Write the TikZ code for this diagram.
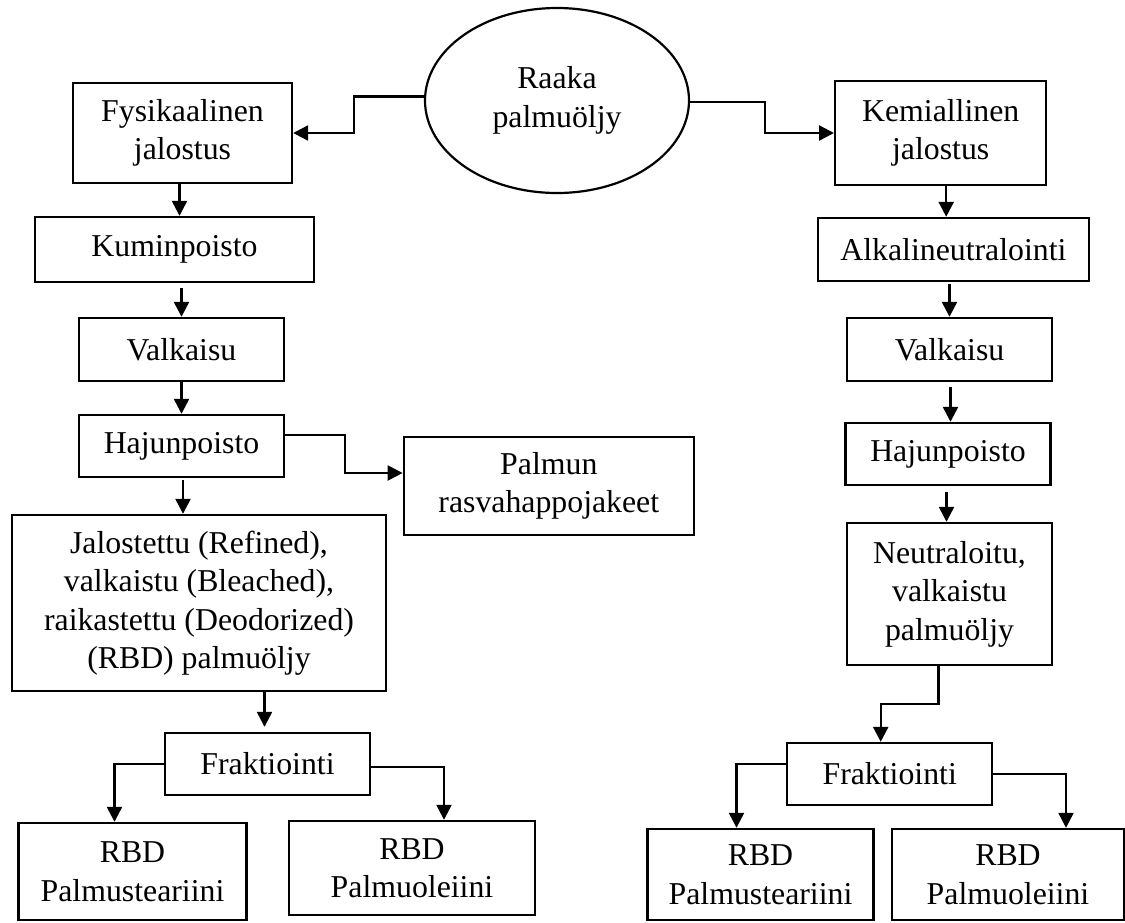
\documentclass[tikz,border=0pt]{standalone}
\usepackage{fontspec}
\setmainfont{Liberation Serif}
\usetikzlibrary{arrows.meta,shapes.geometric}

\begin{document}
\begin{tikzpicture}[->,>={Triangle[length=15pt,width=15pt]},line width=2.4pt,x=1pt,y=-1pt]
\tikzstyle{every node}=[font=\fontsize{31.8pt}{38.5pt}\selectfont,align=center,inner sep=0pt]
\tikzstyle{box}=[draw=black,rectangle]
\useasboundingbox (0,0) rectangle (1125,922);
\node[draw,ellipse,line width=2.2pt,minimum width=264pt,minimum height=185pt] (raaka) at (557,100.5) {Raaka\\palmuöljy};
% fysikaalinen jalostus
\node[box,minimum width=219pt,minimum height=100pt] (fys) at (182.5,133) {Fysikaalinen\\jalostus};
\node[box,minimum width=279pt,minimum height=65pt] (kum) at (174.5,249.5) {Kuminpoisto};
\node[box,minimum width=205pt,minimum height=63pt] (valL) at (181.5,349.5) {Valkaisu};
\node[box,minimum width=205pt,minimum height=62pt] (hajL) at (181.5,446) {Hajunpoisto};
\node[box,minimum width=290pt,minimum height=98pt] (palm) at (548.8,486) {Palmun\\rasvahappojakeet};
\node[box,minimum width=374pt,minimum height=176pt] (jal) at (199,603) {Jalostettu (Refined),\\valkaistu (Bleached),\\raikastettu (Deodorized)\\(RBD) palmuöljy};
\node[box,minimum width=205pt,minimum height=62pt] (fraL) at (267.5,764) {Fraktiointi};
\node[box,minimum width=228pt,minimum height=97pt] (stL) at (132.5,871.5) {RBD\\Palmusteariini};
\node[box,minimum width=246pt,minimum height=94pt] (olL) at (412,868) {RBD\\Palmuoleiini};
% kemiallinen jalostus
\node[box,minimum width=211pt,minimum height=104pt] (kemi) at (940.7,133) {Kemiallinen\\jalostus};
\node[box,minimum width=271pt,minimum height=63pt] (alk) at (953.4,249.5) {Alkalineutralointi};
\node[box,minimum width=205pt,minimum height=63pt] (valR) at (949.5,349.5) {Valkaisu};
\node[box,minimum width=205pt,minimum height=62pt] (hajR) at (948,454) {Hajunpoisto};
\node[box,minimum width=205pt,minimum height=142pt] (neu) at (949.5,594) {Neutraloitu,\\valkaistu\\palmuöljy};
\node[box,minimum width=205pt,minimum height=62pt] (fraR) at (889.7,774) {Fraktiointi};
\node[box,minimum width=226pt,minimum height=91pt] (stR) at (760.5,874.5) {RBD\\Palmusteariini};
\node[box,minimum width=232pt,minimum height=91pt] (olR) at (1008,874.5) {RBD\\Palmuoleiini};
% connectors
\draw ([yshift=4pt]raaka.west) -- ++(-70,0) |- (fys.east);
\draw ([yshift=-1.5pt]raaka.east) -- ++(74.6,0) |- (kemi.west);
\draw ([xshift=-3pt]fys.south) -- ([xshift=-3pt]fys.south |- kum.north);
\draw[shorten <=5pt] (valL.north |- kum.south) -- (valL.north);
\draw (valL.south) -- (hajL.north);
\draw ([yshift=11pt]hajL.east) -- ++(60,0) |- ([yshift=13pt]palm.west);
\draw[shorten <=2pt] ([xshift=1.5pt]hajL.south) -- ([xshift=1.5pt]hajL.south |- jal.north);
\draw[shorten >=5pt] ([xshift=-3pt]fraL.north |- jal.south) -- ([xshift=-3pt]fraL.north);
\draw (fraL.west) -| ([xshift=-18pt]stL.north);
\draw ([yshift=-3pt]fraL.east) -| ([xshift=32pt]olL.north);
\draw ([xshift=5.5pt]kemi.south) -- ([xshift=5.5pt]kemi.south |- alk.north);
\draw[shorten <=2pt] (valR.north |- alk.south) -- (valR.north);
\draw[shorten <=5pt] ([xshift=1pt]valR.south) -- ([xshift=1pt]valR.south |- hajR.north);
\draw[shorten <=6pt] ([xshift=-1.5pt]hajR.south) -- ([xshift=-1.5pt]hajR.south |- neu.north);
\draw ([xshift=-11pt]neu.south) -- ++(0,38) -| ([xshift=-9pt]fraR.north);
\draw ([yshift=10pt]fraR.west) -| ([xshift=-24pt]stR.north);
\draw (fraR.east) -| ([xshift=58pt]olR.north);
\end{tikzpicture}
\end{document}
